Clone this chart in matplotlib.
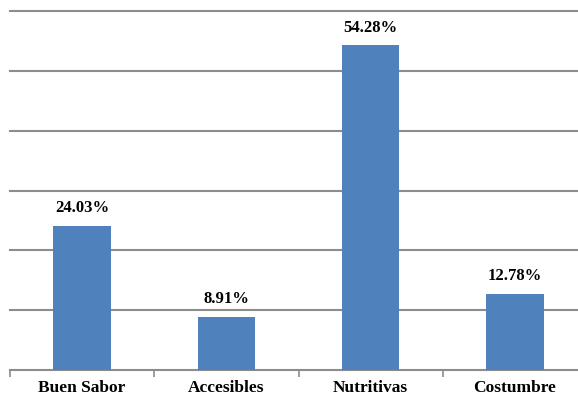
import matplotlib.pyplot as plt

categories = ["Buen Sabor", "Accesibles", "Nutritivas", "Costumbre"]
values = [24.03, 8.91, 54.28, 12.78]
value_labels = ["24.03%", "8.91%", "54.28%", "12.78%"]

plt.rcParams["font.family"] = "Liberation Serif"

fig = plt.figure(figsize=(5.78, 3.98), dpi=100)
ax = fig.add_axes([10 / 578, 28 / 398, 577 / 578, 359 / 398])

x = range(len(categories))
bars = ax.bar(x, values, width=0.4, color="#4F81BD", zorder=3)

for bar, lab in zip(bars, value_labels):
    ax.annotate(lab, (bar.get_x() + bar.get_width() / 2, bar.get_height()),
                xytext=(0, 7), textcoords="offset points",
                ha="center", va="bottom", fontsize=12, fontweight="bold")

ax.set_xlim(-0.5, len(categories) - 0.5)
ax.set_ylim(0, 60)
ax.set_yticks(range(10, 61, 10))
ax.yaxis.grid(True, color="#8c8c8c", linewidth=1.5, zorder=0)
for line in ax.yaxis.get_gridlines():
    line.set_clip_on(False)
ax.tick_params(axis="y", length=0, labelleft=False)

ax.set_xticks(x)
ax.set_xticklabels(categories, fontsize=12.5, fontweight="bold")
ax.set_xticks([i - 0.5 for i in range(len(categories) + 1)], minor=True)
ax.tick_params(axis="x", which="major", length=0, pad=7)
ax.tick_params(axis="x", which="minor", length=5, color="#8c8c8c", width=1.2)

for side in ["top", "right", "left"]:
    ax.spines[side].set_visible(False)
ax.spines["bottom"].set_color("#8c8c8c")
ax.spines["bottom"].set_linewidth(1.5)

fig.savefig("out.png", dpi=100)
